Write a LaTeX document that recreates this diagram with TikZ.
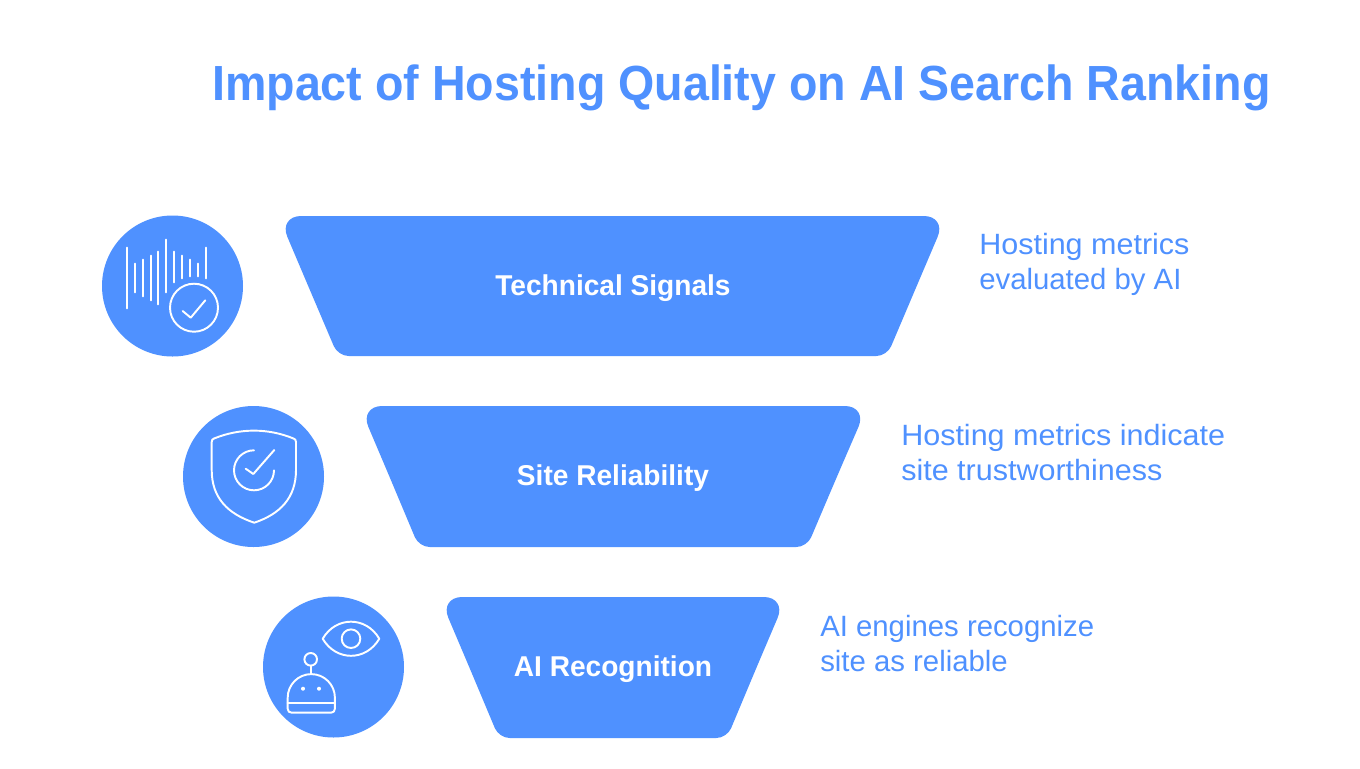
\documentclass[tikz,border=0pt]{standalone}
\usepackage{fontspec}
\setmainfont{Liberation Sans}
\newfontfamily\titlefont[FakeStretch=0.944]{Liberation Sans}
\newfontfamily\headfont[FakeStretch=0.98]{Liberation Sans}
\newfontfamily\sidefont[FakeStretch=1.04]{Liberation Sans}
\newfontfamily\sideplain{Liberation Sans}
\definecolor{blu}{HTML}{4F91FF}
\tikzset{
  x=0.75pt,y=-0.75pt,
  funnel/.style={fill=blu,draw=none},
  disc/.style={fill=blu,draw=none},
  ico/.style={draw=white,line width=1.45pt,line cap=round,line join=round,fill=none},
  headtxt/.style={text=white,font=\headfont\bfseries\fontsize{21.5}{24}\selectfont,anchor=center,inner sep=0pt},
  sidetxt/.style={text=blu,font=\sidefont\fontsize{22}{26.6}\selectfont,anchor=north west,align=left,inner sep=0pt},
}
\begin{document}
\begin{tikzpicture}
\useasboundingbox (0,0) rectangle (1360,768);
\fill[white] (0,0) rectangle (1360,768);
\node[anchor=base west,inner sep=0pt,text=blu,font=\titlefont\bfseries\fontsize{37}{44}\selectfont] (title) at (212,100) {Impact of Hosting Quality on AI Search Ranking};

% funnels
\fill[funnel] (612,216) [rounded corners=17pt] -- (946.5,216) -- (916.7,286) [rounded corners=8pt] -- (887,356) -- (338,356) -- (308.2,286) [rounded corners=17pt] -- (278.5,216) -- cycle;
\fill[funnel] (612,406) [rounded corners=17pt] -- (867.5,406) -- (837.2,476) [rounded corners=8pt] -- (807,547) -- (419,547) -- (389.2,476) [rounded corners=17pt] -- (359.5,406) -- cycle;
\fill[funnel] (612,597) [rounded corners=17pt] -- (786.5,597) -- (756.7,667) [rounded corners=8pt] -- (727,738) -- (499,738) -- (469.2,667) [rounded corners=17pt] -- (439.5,597) -- cycle;
\node[headtxt] (h1) at (613,288) {Technical Signals};
\node[headtxt] (h2) at (613,478.5) {Site Reliability};
\node[headtxt] (h3) at (613,669.5) {AI Recognition};

% side texts
\node[sidetxt] (s1) at (979,233) {Hosting metrics\\{\sideplain evaluated by AI}};
\node[sidetxt] (s2) at (901,424) {Hosting metrics indicate\\site trustworthiness};
\node[sidetxt] (s3) at (820,615) {{\sideplain AI engines recognize}\\{\sideplain site as reliable}};

% discs
\fill[disc] (172.5,286) circle[radius=70.5*0.75pt];
\fill[disc] (253.5,476.5) circle[radius=70.5*0.75pt];
\fill[disc] (333.5,667) circle[radius=70.5*0.75pt];

% icon 1: signal bars with check
\foreach \bx/\ba/\bb in {126.7/247.7/308.3,134.7/263.7/292.3,142.7/259.7/296.3,150.7/255.7/300.3,158.3/251.7/304.3,166.3/239.7/292.3,174.3/251.7/282.3,182.3/255.7/278.3,190/259.7/276.3,198/263.7/276.3,206/247.7/278.3}
  \draw[ico] (\bx,\ba) -- (\bx,\bb);
\draw[ico] (194,307.7) circle[radius=24*0.75pt];
\draw[ico] (182.7,311) -- (190.7,317.7) -- (205.3,300.3);

% icon 2: shield
\draw[ico] (211.7,442) .. controls (211.7,440) and (212.5,439) .. (214,438.5)
  .. controls (240,428) and (268,428) .. (293.5,438.5)
  .. controls (295,439) and (296,440) .. (296,442)
  -- (296,470) .. controls (296,498) and (280,514) .. (254.3,522.7)
  .. controls (228,514) and (211.7,498) .. (211.7,470) -- cycle;
\draw[ico] (254,450.3) arc[start angle=90,end angle=360,radius=20*0.75pt];
\draw[ico] (245.7,468.7) -- (253.3,474) -- (274.3,450);

% icon 3: eye and robot
\draw[ico] (322.7,638.7) .. controls (336,616) and (366,616) .. (379.3,638.7)
  .. controls (366,661.5) and (336,661.5) .. (322.7,638.7) -- cycle;
\draw[ico] (351,638.7) circle[radius=9.3*0.75pt];
\draw[ico] (310.7,659.3) circle[radius=6.3*0.75pt];
\draw[ico] (310.7,665.6) -- (310.7,674);
\draw[ico] (287.7,697.7) arc[start angle=180,end angle=0,radius=23.6*0.75pt] -- (334.9,708.7)
  .. controls (334.9,711.2) and (333.4,712.7) .. (330.9,712.7) -- (291.7,712.7)
  .. controls (289.2,712.7) and (287.7,711.2) .. (287.7,708.7) -- cycle;
\draw[ico] (287.7,702.7) -- (334.9,702.7);
\fill[white] (303,688.7) circle[radius=1.5pt];
\fill[white] (319,688.7) circle[radius=1.5pt];
\end{tikzpicture}
\end{document}
